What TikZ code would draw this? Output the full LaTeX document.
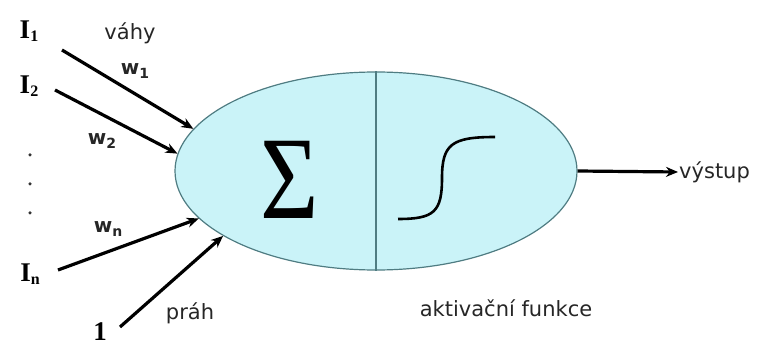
\documentclass[tikz,border=0pt]{standalone}
\usepackage{fontspec}
\setmainfont{DejaVu Sans}
\newfontfamily\serifbf{Liberation Serif}
\usetikzlibrary{arrows.meta,shapes.geometric,positioning}
\definecolor{somafill}{HTML}{CAF3F8}
\definecolor{somaline}{HTML}{4F7C82}
\tikzset{
  neuron/.style={ellipse,draw=somaline,fill=somafill,line width=1.2pt,
    minimum width=402pt,minimum height=198pt,inner sep=0pt},
  lbl/.style={font=\fontsize{21}{21}\selectfont,text=black!85,inner sep=1pt},
  wlbl/.style={font=\bfseries\fontsize{20}{20}\selectfont,text=black!85,inner sep=1pt},
  ilbl/.style={font=\serifbf\bfseries\fontsize{27}{27}\selectfont,inner sep=1pt},
  dotmark/.style={circle,fill=black!80,inner sep=0pt,minimum size=3.5pt},
  syn/.style={->,line width=3.2pt}
}
\newcommand{\inp}[1]{I\raisebox{-0.12em}{\fontsize{16}{16}\selectfont #1}}
\newcommand{\wt}[1]{w\raisebox{-0.2em}{\fontsize{14}{14}\selectfont #1}}

\begin{document}
\begin{tikzpicture}[x=1pt,y=-1pt,>={Stealth[length=12pt,width=10pt]}]
  \useasboundingbox (0,0) rectangle (757,347);
  % cell body: summation | activation
  \node[neuron] (soma) at (376,171) {};
  \draw[somaline,line width=1.2pt] (soma.north) -- (soma.south);
  \node (sum) at (290,180) {\serifbf\fontsize{118}{118}\selectfont\scalebox{0.85}[1]{Σ}};
  \draw[line width=2.6pt] (398,219) .. controls (434,219) and (442,212) .. (442,178)
    .. controls (442,144) and (452,137) .. (495,137);
  % inputs
  \node[ilbl] (i1) at (29,31) {\inp{1}};
  \node[ilbl] (i2) at (29,86) {\inp{2}};
  \node[ilbl] (in) at (30,274) {\inp{n}};
  \node[ilbl] (bias) at (100,332) {1};
  \foreach \y [count=\k] in {155,184,213}
    \node[dotmark] (d\k) at (30,\y) {};
  \coordinate (t1) at (62,50);
  \coordinate (t2) at (55,90);
  \coordinate (tn) at (58,270);
  \coordinate (tb) at (120,327);
  \draw[syn] (t1) -- (soma.167);
  \draw[syn] (t2) -- (soma.175);
  \draw[syn] (tn) -- (soma.195);
  \draw[syn] (tb) -- (soma.203);
  % labels
  \node[lbl] (vahy) at (130,33) {váhy};
  \node[wlbl] (w1) at (135,71) {\wt{1}};
  \node[wlbl] (w2) at (102,141) {\wt{2}};
  \node[wlbl] (wn) at (108,229) {\wt{n}};
  \node[lbl] (prah) at (190,313) {práh};
  \node[lbl] (akt) at (506,308) {aktivační funkce};
  \node[lbl,anchor=west] (out) at (678,172) {výstup};
  \draw[syn] (soma.east) -- (out.west);
\end{tikzpicture}
\end{document}
